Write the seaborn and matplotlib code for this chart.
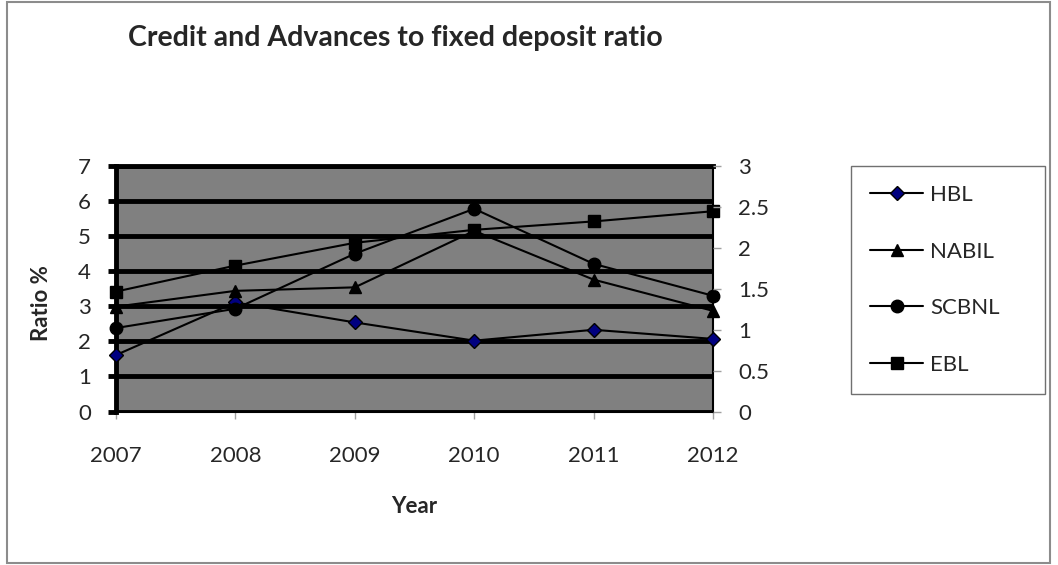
import matplotlib
matplotlib.use("Agg")
import matplotlib.pyplot as plt
from matplotlib.patches import Rectangle
import seaborn as sns

# ── data (left-axis units) ─────────────────────────────────────────────
years = [2007, 2008, 2009, 2010, 2011, 2012]
hbl   = [1.61, 3.11, 2.54, 2.02, 2.33, 2.07]
nabil = [2.99, 3.44, 3.54, 5.15, 3.76, 2.87]
scbnl = [2.38, 2.93, 4.50, 5.78, 4.21, 3.30]
ebl   = [3.42, 4.16, 4.81, 5.18, 5.42, 5.71]

left_ticks = [0, 1, 2, 3, 4, 5, 6, 7]
right_ticks = [0, 0.5, 1, 1.5, 2, 2.5, 3]
right_labels = ['0', '0.5', '1', '1.5', '2', '2.5', '3']

series = [
    ('HBL',   hbl,   'D', '#000080', 7.0),
    ('NABIL', nabil, '^', 'black',   8.5),
    ('SCBNL', scbnl, 'o', 'black',   9.0),
    ('EBL',   ebl,   's', 'black',   8.0),
]

# ── style ──────────────────────────────────────────────────────────────
sns.set_style('white')
plt.rcParams['font.family'] = ['Lato', 'DejaVu Sans']

W, H = 1058, 565
fig = plt.figure(figsize=(W / 100, H / 100), dpi=100)
ax = fig.add_axes([116 / W, 1 - 411.5 / H, (713 - 116) / W, (411.5 - 166) / H])
ax.set_facecolor('#808080')

for name, vals, mk, fc, ms in series:
    sns.lineplot(x=years, y=vals, ax=ax, label=name, color='black',
                 linewidth=1.5, marker=mk, markersize=ms,
                 markerfacecolor=fc, markeredgecolor='black',
                 markeredgewidth=1.0, clip_on=False, zorder=5)

ax.set_xlim(2007, 2012)
ax.set_ylim(0, 7)
ax.set_xticks(years)
ax.set_xticklabels([str(y) for y in years])
ax.set_yticks(left_ticks)

ax.yaxis.grid(True, color='black', linewidth=3.5)
ax.xaxis.grid(False)
ax.set_axisbelow(True)

for side, lw in [('left', 3.5), ('top', 3.5), ('bottom', 1.5), ('right', 1.5)]:
    ax.spines[side].set_color('black')
    ax.spines[side].set_linewidth(lw)

ax.tick_params(axis='y', direction='out', length=6, width=3.5,
               color='black', labelsize=16, pad=12)
ax.tick_params(axis='x', direction='out', length=5, width=1,
               color='#a0a0a0', labelsize=16, pad=20, bottom=True)

ax.set_ylabel('Ratio %', fontsize=16, fontweight='bold')
ax.yaxis.set_label_coords((52 - 116) / (713 - 116), (411.5 - 303) / 245.5)
ax.set_xlabel('Year', fontsize=16, fontweight='bold')
ax.xaxis.set_label_coords(0.5, (411.5 - 496) / 245.5)

# secondary axis (labels only)
ax2 = ax.twinx()
ax2.set_ylim(0, 3)
ax2.set_yticks(right_ticks)
ax2.set_yticklabels(right_labels)
ax2.tick_params(axis='y', direction='out', length=6, width=1,
                color='#a0a0a0', labelsize=16, pad=12)
for s in ax2.spines.values():
    s.set_visible(False)
ax2.grid(False)

# legend
leg = ax.legend(loc='upper left',
                bbox_to_anchor=(851 / W, 1 - 166 / H, (1045 - 851) / W, 0.0),
                bbox_transform=fig.transFigure, mode='expand',
                fontsize=16, frameon=True, fancybox=False, framealpha=1,
                edgecolor='#707070', handlelength=2.4, handletextpad=0.3,
                labelspacing=1.65, borderpad=0.85, borderaxespad=0)
leg.get_frame().set_linewidth(1.0)

# title and outer border
fig.text(128 / W, 1 - 38 / H, 'Credit and Advances to fixed deposit ratio',
         fontsize=20.5, fontweight='bold', ha='left', va='center')
fig.patches.append(Rectangle((7 / W, 2 / H), (1050 - 7) / W, (563 - 2) / H,
                             transform=fig.transFigure, fill=False,
                             edgecolor='#8c8c8c', linewidth=1.5))

fig.savefig('out.png', dpi=100)
